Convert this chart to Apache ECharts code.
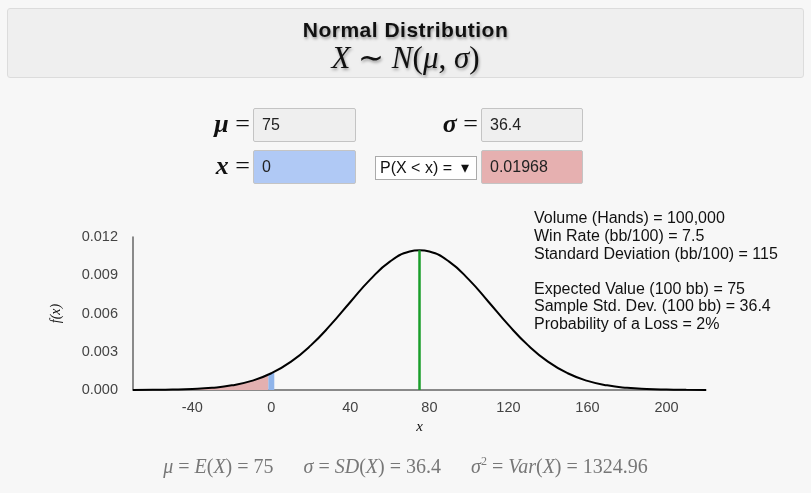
<!DOCTYPE html>
<html>
<head>
<meta charset="utf-8">
<script src="https://cdn.jsdelivr.net/npm/echarts@6/dist/echarts.min.js"></script>
<style>
  html, body { margin: 0; padding: 0; }
  body { width: 811px; height: 493px; background: #f7f7f7; position: relative; overflow: hidden;
         font-family: Arial, "Liberation Sans", sans-serif; }
  #chart { position: absolute; left: 0; top: 0; width: 811px; height: 493px; }
  .abs { position: absolute; }
  #header { left: 7px; top: 8px; width: 795px; height: 68px; background: #efefef;
            border: 1px solid #dcdcdc; border-radius: 3px; }
  #title { left: 0; top: 9px; width: 100%; text-align: center; font-weight: bold; font-size: 21px;
           letter-spacing: 0.5px; color: #111; text-shadow: 1px 2px 3px rgba(0,0,0,0.35); }
  #formula { left: 0; top: 30px; width: 100%; text-align: center; font-family: "Liberation Serif", serif;
             font-size: 31px; color: #111; text-shadow: 1px 2px 3px rgba(0,0,0,0.35); }
  .lbl { font-family: "Liberation Serif", serif; font-size: 26px; color: #111; text-align: right; width: 60px; }
  .box { box-sizing: border-box; border: 1px solid #c4c4c4; border-radius: 2px; font-size: 16px;
         color: #222; padding-left: 8px; line-height: 32px; }
  #sel { left: 375px; top: 156px; width: 102px; height: 24px; box-sizing: border-box; background: #fff;
         border: 1px solid #aaa; font-size: 16px; line-height: 22px; padding-left: 4px; color: #111; }
  #footer { left: 0; top: 454px; width: 811px; text-align: center; font-family: "Liberation Serif", serif;
            font-size: 20px; color: #777; }
  i { font-style: italic; }
</style>
</head>
<body>
<div id="chart"></div>

<div id="header" class="abs">
  <div id="title" class="abs">Normal Distribution</div>
  <div id="formula" class="abs"><i>X</i> ∼ <i>N</i>(<i>μ</i>, <i>σ</i>)</div>
</div>

<div class="abs lbl" style="left:190px;top:109px;"><b><i>μ</i></b> =</div>
<div class="abs box" style="left:253px;top:108px;width:103px;height:34px;background:#efefef;">75</div>
<div class="abs lbl" style="left:418px;top:109px;"><b><i>σ</i></b> =</div>
<div class="abs box" style="left:481px;top:108px;width:102px;height:34px;background:#efefef;">36.4</div>

<div class="abs lbl" style="left:190px;top:151px;"><b><i>x</i></b> =</div>
<div class="abs box" style="left:253px;top:150px;width:103px;height:34px;background:#b0c9f5;">0</div>
<div id="sel" class="abs">P(X &lt; x) = &nbsp;▾</div>
<div class="abs box" style="left:481px;top:150px;width:102px;height:34px;background:#e6b0b0;">0.01968</div>

<div id="footer" class="abs">
  <i>μ</i> = <i>E</i>(<i>X</i>) = 75 &nbsp;&nbsp;&nbsp;&nbsp; <i>σ</i> = <i>SD</i>(<i>X</i>) = 36.4 &nbsp;&nbsp;&nbsp;&nbsp; <i>σ</i><sup style="font-size:12px">2</sup> = <i>Var</i>(<i>X</i>) = 1324.96
</div>

<script>
// values
var mu = 75;
var peak = 0.01096;

var curveX = [-70, -60, -50, -40, -30, -20, -10, 0, 10, 20, 30, 40, 50, 60, 70, 75,
              80, 90, 100, 110, 120, 130, 140, 150, 160, 170, 180, 190, 200, 210, 220];
var curveY = [0.0000039, 0.0000113, 0.0000302, 0.0000745, 0.000171, 0.000364, 0.000717,
              0.001312, 0.002226, 0.003500, 0.005104, 0.006903, 0.008657, 0.010068, 0.010857, 0.01096,
              0.010857, 0.010068, 0.008657, 0.006903, 0.005104, 0.003500, 0.002226, 0.001312,
              0.000717, 0.000364, 0.000171, 0.0000745, 0.0000302, 0.0000113, 0.0000039];

// shaded tail P(X < x) and the band at x
var tailX = [-70, -60, -50, -40, -30, -20, -10, -1.5];
var tailY = [0.0000039, 0.0000113, 0.0000302, 0.0000745, 0.000171, 0.000364, 0.000717, 0.001205];
var bandX = [-1.5, 1.5];
var bandY = [0.001205, 0.001428];

var xTicks = [-40, 0, 40, 80, 120, 160, 200];

var notes = [
  'Volume (Hands) = 100,000',
  'Win Rate (bb/100) = 7.5',
  'Standard Deviation (bb/100) = 115',
  '',
  'Expected Value (100 bb) = 75',
  'Sample Std. Dev. (100 bb) = 36.4',
  'Probability of a Loss = 2%'
];

function pairs(xs, ys) {
  return xs.map(function (x, i) { return [x, ys[i]]; });
}

var chart = echarts.init(document.getElementById('chart'));

var option = {
  animation: false,
  grid: { left: 133, right: 105, top: 237, bottom: 103 },
  xAxis: {
    type: 'value',
    min: -70,
    max: 220,
    name: 'x',
    nameLocation: 'middle',
    nameGap: 30,
    nameTextStyle: { fontStyle: 'italic', fontFamily: 'Liberation Serif', fontSize: 15, color: '#111' },
    axisLine: { onZero: false, lineStyle: { color: '#666', width: 1.5 } },
    axisTick: { show: false },
    splitLine: { show: false },
    axisLabel: {
      customValues: xTicks,
      margin: 10,
      color: '#444',
      fontSize: 14.5,
      fontFamily: 'Arial, Liberation Sans'
    }
  },
  yAxis: {
    type: 'value',
    min: 0,
    max: 0.012,
    interval: 0.003,
    name: 'f(x)',
    nameLocation: 'middle',
    nameGap: 70,
    nameRotate: 90,
    nameTextStyle: { fontStyle: 'italic', fontFamily: 'Liberation Serif', fontSize: 14, color: '#111' },
    axisLine: { show: true, onZero: false, lineStyle: { color: '#666', width: 1.5 } },
    axisTick: { show: false },
    splitLine: { show: false },
    axisLabel: {
      margin: 15,
      color: '#444',
      fontSize: 14.5,
      fontFamily: 'Arial, Liberation Sans',
      formatter: function (v) { return v.toFixed(3); }
    }
  },
  series: [{
    name: 'tail',
    type: 'line',
    data: pairs(tailX, tailY),
    smooth: true,
    symbol: 'none',
    lineStyle: { width: 0 },
    areaStyle: { color: '#e3b0b0', opacity: 1 },
    z: 1
  }, {
    name: 'band',
    type: 'line',
    data: pairs(bandX, bandY),
    symbol: 'none',
    lineStyle: { width: 0 },
    areaStyle: { color: '#8fb4ea', opacity: 1 },
    z: 1
  }, {
    name: 'pdf',
    type: 'line',
    data: pairs(curveX, curveY),
    smooth: true,
    symbol: 'none',
    lineStyle: { color: '#000', width: 2 },
    z: 3,
    markLine: {
      silent: true,
      symbol: 'none',
      label: { show: false },
      lineStyle: { color: '#1a9e2a', width: 2.5, type: 'solid' },
      data: [[{ coord: [mu, 0] }, { coord: [mu, peak] }]]
    }
  }],
  graphic: notes.map(function (t, i) {
    return {
      type: 'text',
      left: 534,
      top: 211 + i * 17.6,
      style: { text: t, fill: '#111', fontSize: 16, fontFamily: 'Arial, Liberation Sans' }
    };
  })
};

chart.setOption(option);
</script>
</body>
</html>
